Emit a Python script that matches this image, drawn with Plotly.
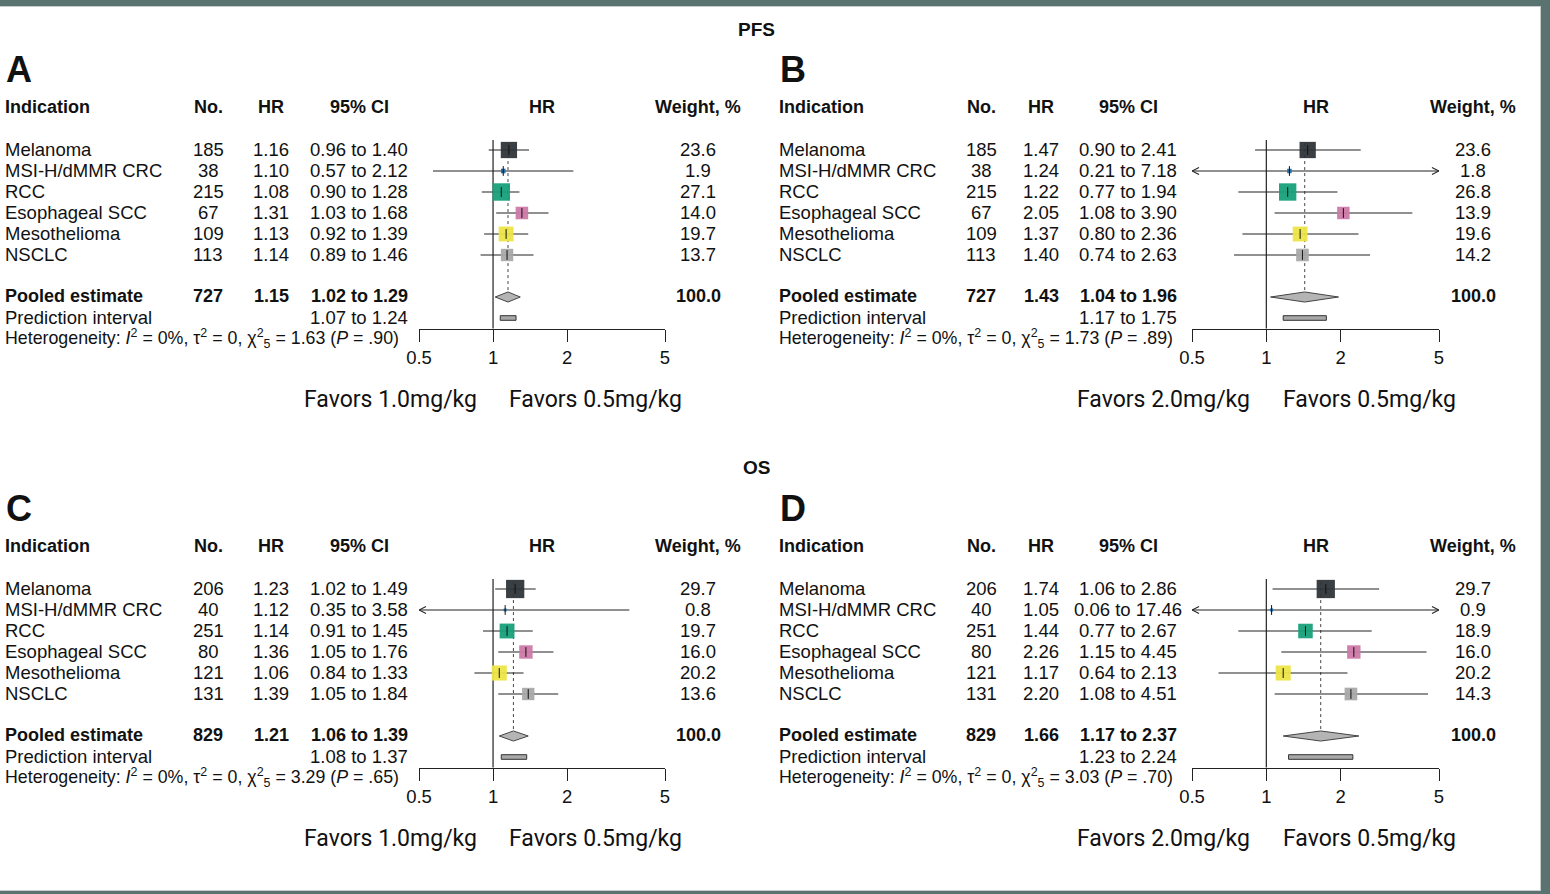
import math
import plotly.graph_objects as go

W, H = 1550, 894

# ---------------- data ----------------
indications = ["Melanoma", "MSI-H/dMMR CRC", "RCC", "Esophageal SCC", "Mesothelioma", "NSCLC"]
ind_colors = ["#2e3538", "#1f6ea6", "#17a07a", "#cc79a7", "#ede547", "#a9a9a9"]

# Panel A: PFS, 1.0 vs 0.5 mg/kg
a_n = [185, 38, 215, 67, 109, 113]
a_hr = [1.16, 1.10, 1.08, 1.31, 1.13, 1.14]
a_lo = [0.96, 0.57, 0.90, 1.03, 0.92, 0.89]
a_hi = [1.40, 2.12, 1.28, 1.68, 1.39, 1.46]
a_w = [23.6, 1.9, 27.1, 14.0, 19.7, 13.7]
a_pool_n, a_pool_hr, a_pool_lo, a_pool_hi, a_pool_w = 727, 1.15, 1.02, 1.29, 100.0
a_pred = [1.07, 1.24]
a_chi, a_p = "1.63", ".90"

# Panel B: PFS, 2.0 vs 0.5 mg/kg
b_n = [185, 38, 215, 67, 109, 113]
b_hr = [1.47, 1.24, 1.22, 2.05, 1.37, 1.40]
b_lo = [0.90, 0.21, 0.77, 1.08, 0.80, 0.74]
b_hi = [2.41, 7.18, 1.94, 3.90, 2.36, 2.63]
b_w = [23.6, 1.8, 26.8, 13.9, 19.6, 14.2]
b_pool_n, b_pool_hr, b_pool_lo, b_pool_hi, b_pool_w = 727, 1.43, 1.04, 1.96, 100.0
b_pred = [1.17, 1.75]
b_chi, b_p = "1.73", ".89"

# Panel C: OS, 1.0 vs 0.5 mg/kg
c_n = [206, 40, 251, 80, 121, 131]
c_hr = [1.23, 1.12, 1.14, 1.36, 1.06, 1.39]
c_lo = [1.02, 0.35, 0.91, 1.05, 0.84, 1.05]
c_hi = [1.49, 3.58, 1.45, 1.76, 1.33, 1.84]
c_w = [29.7, 0.8, 19.7, 16.0, 20.2, 13.6]
c_pool_n, c_pool_hr, c_pool_lo, c_pool_hi, c_pool_w = 829, 1.21, 1.06, 1.39, 100.0
c_pred = [1.08, 1.37]
c_chi, c_p = "3.29", ".65"

# Panel D: OS, 2.0 vs 0.5 mg/kg
d_n = [206, 40, 251, 80, 121, 131]
d_hr = [1.74, 1.05, 1.44, 2.26, 1.17, 2.20]
d_lo = [1.06, 0.06, 0.77, 1.15, 0.64, 1.08]
d_hi = [2.86, 17.46, 2.67, 4.45, 2.13, 4.51]
d_w = [29.7, 0.9, 18.9, 16.0, 20.2, 14.3]
d_pool_n, d_pool_hr, d_pool_lo, d_pool_hi, d_pool_w = 829, 1.66, 1.17, 2.37, 100.0
d_pred = [1.23, 2.24]
d_chi, d_p = "3.03", ".70"

het_i2, het_tau2, het_df = "0%", "0", 5
tick_vals = [0.5, 1, 2, 5]
tick_text = ["0.5", "1", "2", "5"]
x_min, x_max = 0.5, 5
ref_value = 1
section_titles = ["PFS", "OS"]
panel_letters = ["A", "B", "C", "D"]
favors_left = ["Favors 1.0mg/kg", "Favors 2.0mg/kg", "Favors 1.0mg/kg", "Favors 2.0mg/kg"]
favors_right = ["Favors 0.5mg/kg"] * 4
headers = ["Indication", "No.", "HR", "95% CI", "HR", "Weight, %"]

panels = [
    dict(n=a_n, hr=a_hr, lo=a_lo, hi=a_hi, w=a_w, pn=a_pool_n, phr=a_pool_hr, plo=a_pool_lo, phi=a_pool_hi, pw=a_pool_w, pred=a_pred, chi=a_chi, p=a_p),
    dict(n=b_n, hr=b_hr, lo=b_lo, hi=b_hi, w=b_w, pn=b_pool_n, phr=b_pool_hr, plo=b_pool_lo, phi=b_pool_hi, pw=b_pool_w, pred=b_pred, chi=b_chi, p=b_p),
    dict(n=c_n, hr=c_hr, lo=c_lo, hi=c_hi, w=c_w, pn=c_pool_n, phr=c_pool_hr, plo=c_pool_lo, phi=c_pool_hi, pw=c_pool_w, pred=c_pred, chi=c_chi, p=c_p),
    dict(n=d_n, hr=d_hr, lo=d_lo, hi=d_hi, w=d_w, pn=d_pool_n, phr=d_pool_hr, plo=d_pool_lo, phi=d_pool_hi, pw=d_pool_w, pred=d_pred, chi=d_chi, p=d_p),
]

# ---------------- layout geometry (pixels) ----------------
ROW = 21.0
FONT = "Liberation Sans, Arial, sans-serif"
FAV_FONT = "Roboto, Liberation Sans, sans-serif"
TXT = "#111111"
FS = 18.5
FSB = 18
FSH = 17.8

cols = [
    dict(ind=3, n=208, hr=271, ci=359, hrh=542, wt=698, p0=419, p1=665, favR=479, favL=507, letter=4),
    dict(ind=777, n=981, hr=1041, ci=1128, hrh=1315.5, wt=1473, p0=1192, p1=1439, favR=1252, favL=1281, letter=778),
]
bases = [150, 589]
title_y = [29, 467]


def px(x):
    return x / W


def py(y):
    return 1 - y / H


fig = go.Figure()
annotations = []

for k, P in enumerate(panels):
    col = cols[k % 2]
    rowgrp = k // 2
    base = bases[rowgrp]
    xa = "x" if k == 0 else f"x{k+1}"
    ya = "y" if rowgrp == 0 else "y2"
    yref = ya

    axname = "xaxis" if k == 0 else f"xaxis{k+1}"
    fig.layout[axname] = dict(
        type="log", range=[math.log10(x_min), math.log10(x_max)],
        domain=[px(col["p0"]), px(col["p1"])],
        anchor="free", position=py(base + 8.5 * ROW),
        showgrid=False, zeroline=False, showline=True, linecolor="#222", linewidth=1.2,
        ticks="outside", ticklen=12, tickwidth=1.2, tickcolor="#222",
        tickvals=tick_vals, ticktext=tick_text,
        tickfont=dict(family=FONT, size=FS, color=TXT), ticklabelstandoff=0,
        fixedrange=True, automargin=False,
    )

    fig.add_trace(go.Scatter(x=[ref_value, ref_value], y=[-0.48, 8.5], xaxis=xa, yaxis=ya,
                             mode="lines", line=dict(color="#333", width=1.3), hoverinfo="skip"))
    fig.add_trace(go.Scatter(x=[P["phr"], P["phr"]], y=[-0.33, 7 - 0.24], xaxis=xa, yaxis=ya,
                             mode="lines", line=dict(color="#444", width=1, dash="dot"), hoverinfo="skip"))

    cx, cy = [], []
    arx, ary = [], []
    fac = 10 ** (7 / 246.0)
    for i in range(6):
        lo = max(P["lo"][i], x_min)
        hi = min(P["hi"][i], x_max)
        cx += [lo, hi, None]
        cy += [i, i, None]
        if P["lo"][i] < x_min:
            arx += [x_min * fac, x_min, x_min * fac, None]
            ary += [i - 0.17, i, i + 0.17, None]
        if P["hi"][i] > x_max:
            arx += [x_max / fac, x_max, x_max / fac, None]
            ary += [i - 0.17, i, i + 0.17, None]
    fig.add_trace(go.Scatter(x=cx, y=cy, xaxis=xa, yaxis=ya, mode="lines",
                             line=dict(color="#222", width=1.1), hoverinfo="skip"))
    if arx:
        fig.add_trace(go.Scatter(x=arx, y=ary, xaxis=xa, yaxis=ya, mode="lines",
                                 line=dict(color="#222", width=1.1), hoverinfo="skip"))

    fig.add_trace(go.Scatter(
        x=P["hr"], y=list(range(6)), xaxis=xa, yaxis=ya, mode="markers",
        marker=dict(symbol="square", size=[3.35 * math.sqrt(w) for w in P["w"]],
                    color=ind_colors, opacity=0.95, line=dict(width=0)),
        hoverinfo="skip"))
    fig.add_trace(go.Scatter(
        x=P["hr"], y=list(range(6)), xaxis=xa, yaxis=ya, mode="markers",
        marker=dict(symbol="line-ns", size=7, line=dict(color="#111", width=1)),
        hoverinfo="skip"))

    fig.add_trace(go.Scatter(
        x=[P["plo"], P["phr"], P["phi"], P["phr"], P["plo"]],
        y=[7, 7 - 0.24, 7, 7 + 0.24, 7], xaxis=xa, yaxis=ya, mode="lines",
        fill="toself", fillcolor="#b4b4b4", line=dict(color="#444", width=1), hoverinfo="skip"))
    lo_p, hi_p = P["pred"]
    fig.add_trace(go.Scatter(
        x=[lo_p, hi_p, hi_p, lo_p, lo_p], y=[8 - 0.11, 8 - 0.11, 8 + 0.11, 8 + 0.11, 8 - 0.11],
        xaxis=xa, yaxis=ya, mode="lines", fill="toself", fillcolor="#a8a8a8",
        line=dict(color="#333", width=1), hoverinfo="skip"))

    def add(text, xpix, row, anchor="center", bold=False, size=None):
        annotations.append(dict(
            text=f"<b>{text}</b>" if bold else text, x=px(xpix), xref="paper",
            y=row - 0.04, yref=yref, xanchor=anchor, yanchor="middle", showarrow=False,
            font=dict(family=FONT, size=size or (FSB if bold else FS), color=TXT)))

    add(headers[0], col["ind"], -2, "left", True)
    add(headers[1], col["n"], -2, "center", True)
    add(headers[2], col["hr"], -2, "center", True)
    add(headers[3], col["ci"], -2, "center", True)
    add(headers[4], col["hrh"], -2, "center", True)
    add(headers[5], col["wt"], -2, "center", True)

    for i in range(6):
        add(indications[i], col["ind"], i, "left")
        add(str(P["n"][i]), col["n"], i)
        add(f"{P['hr'][i]:.2f}", col["hr"], i)
        add(f"{P['lo'][i]:.2f} to {P['hi'][i]:.2f}", col["ci"], i)
        add(f"{P['w'][i]:.1f}", col["wt"], i)

    add("Pooled estimate", col["ind"], 7, "left", True)
    add(str(P["pn"]), col["n"], 7, "center", True)
    add(f"{P['phr']:.2f}", col["hr"], 7, "center", True)
    add(f"{P['plo']:.2f} to {P['phi']:.2f}", col["ci"], 7, "center", True)
    add(f"{P['pw']:.1f}", col["wt"], 7, "center", True)
    add("Prediction interval", col["ind"], 8, "left")
    add(f"{lo_p:.2f} to {hi_p:.2f}", col["ci"], 8)
    add(f"Heterogeneity: <i>I</i><sup>2</sup> = {het_i2}, τ<sup>2</sup> = {het_tau2}, "
        f"χ<sup>2</sup><sub>{het_df}</sub> = {P['chi']} (<i>P</i> = {P['p']})",
        col["ind"], 9, "left", size=FSH)

    annotations.append(dict(text=f"<b>{panel_letters[k]}</b>", x=px(col["letter"]), xref="paper",
                            y=py(base - 81), yref="paper", xanchor="left", yanchor="middle",
                            showarrow=False, font=dict(family=FONT, size=36, color=TXT)))
    fy = py(base + 249)
    annotations.append(dict(text=favors_left[k], x=px(col["favR"]), xref="paper", y=fy, yref="paper",
                            xanchor="right", yanchor="middle", showarrow=False,
                            font=dict(family=FAV_FONT, size=23, color=TXT)))
    annotations.append(dict(text=favors_right[k], x=px(col["favL"]), xref="paper", y=fy, yref="paper",
                            xanchor="left", yanchor="middle", showarrow=False,
                            font=dict(family=FAV_FONT, size=23, color=TXT)))

for t, ty in zip(section_titles, title_y):
    annotations.append(dict(text=f"<b>{t}</b>", x=px(756), xref="paper", y=py(ty), yref="paper",
                            xanchor="center", yanchor="middle", showarrow=False,
                            font=dict(family=FONT, size=19, color=TXT)))

fig.layout["yaxis"] = dict(domain=[0, 1], range=[(H - bases[0]) / ROW, -bases[0] / ROW],
                           visible=False, fixedrange=True, anchor="free", position=0, automargin=False)
fig.layout["yaxis2"] = dict(domain=[0, 1], range=[(H - bases[1]) / ROW, -bases[1] / ROW],
                            visible=False, fixedrange=True, anchor="free", position=0, automargin=False)

BORDER = "#5a7370"
shapes = [
    dict(type="rect", xref="paper", yref="paper", x0=0, x1=1, y0=py(6), y1=1, fillcolor=BORDER, line_width=0, layer="above"),
    dict(type="rect", xref="paper", yref="paper", x0=px(1541), x1=1, y0=0, y1=1, fillcolor=BORDER, line_width=0, layer="above"),
    dict(type="rect", xref="paper", yref="paper", x0=0, x1=1, y0=0, y1=py(891), fillcolor=BORDER, line_width=0, layer="above"),
    dict(type="line", xref="paper", yref="paper", x0=0, x1=px(1541), y0=py(6.5), y1=py(6.5), line=dict(color="#c5cccb", width=1)),
    dict(type="line", xref="paper", yref="paper", x0=px(1540.5), x1=px(1540.5), y0=py(891), y1=py(6), line=dict(color="#c5cccb", width=1)),
    dict(type="line", xref="paper", yref="paper", x0=0, x1=px(1541), y0=py(890.5), y1=py(890.5), line=dict(color="#c5cccb", width=1)),
]

fig.update_layout(
    width=W, height=H, margin=dict(l=0, r=0, t=0, b=0, pad=0, autoexpand=False),
    paper_bgcolor="white", plot_bgcolor="rgba(0,0,0,0)",
    showlegend=False, annotations=annotations, shapes=shapes,
    font=dict(family=FONT, color=TXT),
)

fig.write_html("out.html", config={"displayModeBar": False})
